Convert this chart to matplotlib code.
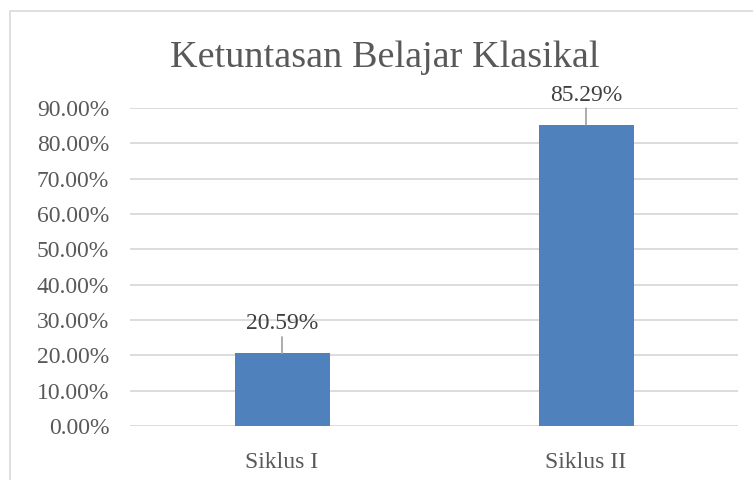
import matplotlib
matplotlib.use("Agg")
import matplotlib.pyplot as plt
from matplotlib.patches import Rectangle

categories = ["Siklus I", "Siklus II"]
values = [20.59, 85.29]
yticks = [0, 10, 20, 30, 40, 50, 60, 70, 80, 90]
title = "Ketuntasan Belajar Klasikal"

plt.rcParams['font.family'] = ['Liberation Serif', 'DejaVu Serif']

W, H = 753, 480
fig = plt.figure(figsize=(W/100, H/100), dpi=100)
fig.patch.set_facecolor("white")
# outer chart border
fig.add_artist(Rectangle((10/W, -0.01), 1.0, 1 - 11/H + 0.01, transform=fig.transFigure,
                         fill=False, edgecolor="#D9D9D9", linewidth=1.2))

ax = fig.add_axes([130/W, 1 - 426/H, (738-130)/W, (426-108)/H])
x = range(len(categories))
bars = ax.bar(x, values, width=0.3125, color="#4F81BD", zorder=3)
ax.set_xlim(-0.5, 1.5)
ax.set_ylim(0, 90)
ax.set_yticks(yticks)
ax.set_yticklabels([f"{t:.2f}%" for t in yticks], fontsize=17, color="#595959")
ax.set_xticks(list(x))
ax.set_xticklabels(categories, fontsize=17, color="#595959")
ax.tick_params(length=0)
ax.tick_params(axis='y', pad=15)
ax.tick_params(axis='x', pad=19)
ax.grid(axis='y', color="#D9D9D9", linewidth=1.3, zorder=0)
for s in ax.spines.values():
    s.set_visible(False)

for xi, v in zip(x, values):
    ax.annotate("", xy=(xi, v), xytext=(xi, v + 4.6),
                arrowprops=dict(arrowstyle="-", color="#A6A6A6", lw=1.3, shrinkA=0, shrinkB=0))
    ax.text(xi, v + 5.4, f"{v:.2f}%", ha="center", va="bottom", fontsize=17, color="#404040")

fig.text(385/W, 1 - 67/H, title, ha="center", va="baseline", fontsize=27.5, color="#595959")

fig.savefig("out.png", dpi=100)
